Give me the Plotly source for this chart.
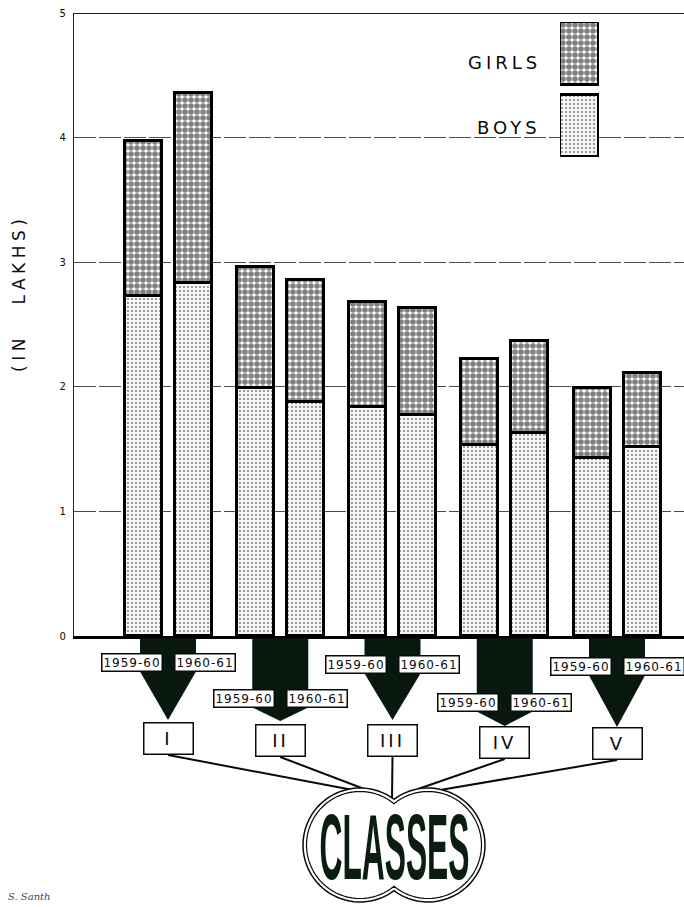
import numpy as np
import plotly.graph_objects as go

# ---------------- data (in lakhs) ----------------
classes = ["I", "II", "III", "IV", "V"]
years = ["1959-60", "1960-61"]
boys_1959_60 = [2.73, 1.99, 1.84, 1.53, 1.43]
girls_1959_60 = [1.24, 0.97, 0.84, 0.69, 0.56]
boys_1960_61 = [2.83, 1.88, 1.77, 1.63, 1.52]
girls_1960_61 = [1.53, 0.98, 0.86, 0.74, 0.59]
y_tick_values = [0, 1, 2, 3, 4, 5]
y_tick_labels = ["0", "1", "2", "3", "4", "5"]
legend_labels = ["GIRLS", "BOYS"]
y_title = "(IN   LAKHS)"
footer_title = "CLASSES"
signature = "S. Santh"

# ---------------- geometry helpers ----------------
W, H = 684, 907
def yp(p):           # pixel row -> paper y
    return 1 - p / H
def xp(q):           # pixel col -> paper x
    return q / W

PLOT_L, PLOT_R = 74, 684
Y0_PX, Y5_PX = 636, 13
CLASS0_PX, STEP_PX = 168, 112.25
x_range = [(PLOT_L - CLASS0_PX) / STEP_PX, (PLOT_R - CLASS0_PX) / STEP_PX]
def u(px_len):       # pixel length -> x data units
    return px_len / STEP_PX

xi = list(range(len(classes)))
BAR_W = u(37)
OFFSETS = [-u(25) - BAR_W / 2, u(25) - BAR_W / 2]

INK = "#0a0a0a"
FUNNEL = "#08180e"
font_main = "DejaVu Sans"

girls_marker = dict(color="white",
                    pattern=dict(shape=".", size=6, solidity=0.68,
                                 fgcolor="black", bgcolor="white"),
                    line=dict(color="black", width=3))
boys_marker = dict(color="#f3f3f3",
                   pattern=dict(shape=".", size=4, solidity=0.22,
                                fgcolor="#111111", bgcolor="#f5f5f5"),
                   line=dict(color="black", width=3))

fig = go.Figure()
series = [(boys_1959_60, girls_1959_60), (boys_1960_61, girls_1960_61)]
for k, (boys, girls) in enumerate(series):
    fig.add_trace(go.Bar(x=xi, y=boys, width=BAR_W, offset=OFFSETS[k],
                         marker=boys_marker, name="BOYS " + years[k],
                         showlegend=False, cliponaxis=False))
    fig.add_trace(go.Bar(x=xi, y=girls, base=boys, width=BAR_W, offset=OFFSETS[k],
                         marker=girls_marker, name="GIRLS " + years[k],
                         showlegend=False, cliponaxis=False))

# legend swatches on their own small axis
fig.add_trace(go.Bar(x=[0], y=[62], base=[0], width=1, marker=boys_marker,
                     xaxis="x2", yaxis="y2", showlegend=False, cliponaxis=False,
                     hoverinfo="skip"))
fig.add_trace(go.Bar(x=[0], y=[63], base=[72], width=1, marker=girls_marker,
                     xaxis="x2", yaxis="y2", showlegend=False, cliponaxis=False,
                     hoverinfo="skip"))

shapes = []
annotations = []

# top frame line at 5
shapes.append(dict(type="line", xref="paper", yref="y", x0=xp(PLOT_L), x1=1,
                   y0=5, y1=5, line=dict(color="#222", width=2), layer="below"))

# funnels / labels / class boxes
label_c_px = [662, 698, 664, 702, 666]
tip_px = [720, 721, 720, 726, 727]
box_c_px = [738, 740, 740, 742, 743]
line_end_px = [(353, 790), (388, 798), (392, 798), (418, 789), (440, 790)]
HW = u(28)
for i in xi:
    lb = label_c_px[i] + 9.5
    path = (f"M {i-HW},{yp(638)} L {i+HW},{yp(638)} L {i+HW},{yp(lb)} "
            f"L {i},{yp(tip_px[i])} L {i-HW},{yp(lb)} Z")
    shapes.append(dict(type="path", xref="x", yref="paper", path=path,
                       fillcolor=FUNNEL, line=dict(width=0)))
    for k, yr in enumerate(years):
        annotations.append(dict(
            x=i + (-1 if k == 0 else 1) * u(36.5), y=yp(label_c_px[i]),
            xref="x", yref="paper", showarrow=False,
            text=f'<span style="letter-spacing:1px">{yr}</span>',
            font=dict(family=font_main, size=12, color=INK),
            bgcolor="white", bordercolor=INK, borderwidth=1.5, borderpad=1,
            width=57, height=14, xanchor="center", yanchor="middle"))
    annotations.append(dict(
        x=i, y=yp(box_c_px[i]), xref="x", yref="paper", showarrow=False,
        text=f'<span style="letter-spacing:3px">{classes[i]}</span>',
        font=dict(family=font_main, size=18, color=INK),
        bgcolor="white", bordercolor=INK, borderwidth=1.5, borderpad=2,
        width=44, height=26, xanchor="center", yanchor="middle"))
    # connector to CLASSES
    ex, ey = line_end_px[i]
    shapes.append(dict(type="line", xref="x", yref="paper",
                       x0=i, y0=yp(box_c_px[i] + 17),
                       x1=(ex - CLASS0_PX) / STEP_PX, y1=yp(ey),
                       line=dict(color=INK, width=2)))

# CLASSES double-circle emblem
def union_path(cxl, cxr, cy, r, n=60):
    d = (cxr - cxl) / 2
    a = np.degrees(np.arccos(d / r))
    t1 = np.radians(np.linspace(360 - a, a, n))
    t2 = np.radians(np.linspace(180 - a, -(180 - a), n))
    pts = [(cxl + r * np.cos(t), cy + r * np.sin(t)) for t in t1]
    pts += [(cxr + r * np.cos(t), cy + r * np.sin(t)) for t in t2]
    s = "M " + " L ".join(f"{xp(x):.5f},{yp(y):.5f}" for x, y in pts) + " Z"
    return s

shapes.append(dict(type="path", xref="paper", yref="paper",
                   path=union_path(360, 428, 845, 57), fillcolor="white",
                   line=dict(color=INK, width=1.5)))
shapes.append(dict(type="path", xref="paper", yref="paper",
                   path=union_path(360, 428, 845, 53.5),
                   line=dict(color=INK, width=1.2)))

annotations.append(dict(x=xp(394), y=yp(846), xref="paper", yref="paper",
                        showarrow=False, text=footer_title,
                        font=dict(family="Liberation Sans", size=40,
                                  color="#0b1d10", weight=700),
                        xanchor="center", yanchor="middle"))

# legend labels
for lab, ypx in zip(legend_labels, [62, 127]):
    annotations.append(dict(x=xp(543), y=yp(ypx), xref="paper", yref="paper",
                            showarrow=False,
                            text=f'<span style="letter-spacing:4px">{lab}</span>',
                            font=dict(family=font_main, size=18, color=INK),
                            xanchor="right", yanchor="middle"))

# y title
annotations.append(dict(x=xp(19), y=yp(294), xref="paper", yref="paper",
                        showarrow=False, textangle=-90,
                        text=f'<span style="letter-spacing:4.5px">{y_title.replace(" ", "&nbsp;")}</span>',
                        font=dict(family=font_main, size=17, color=INK),
                        xanchor="center", yanchor="middle"))

# signature
annotations.append(dict(x=xp(6), y=yp(896), xref="paper", yref="paper",
                        showarrow=False, text=f"<i>{signature}</i>",
                        font=dict(family="DejaVu Serif", size=10, color="#444"),
                        xanchor="left", yanchor="middle"))

fig.update_layout(
    width=W, height=H, margin=dict(l=0, r=0, t=0, b=0, pad=0, autoexpand=False),
    paper_bgcolor="white", plot_bgcolor="white",
    barmode="overlay", bargap=0,
    showlegend=False,
    xaxis=dict(domain=[xp(PLOT_L), 1], range=x_range, showgrid=False,
               zeroline=False, showticklabels=False, ticks="", automargin=False,
               showline=True, linecolor="black", linewidth=3, fixedrange=True),
    yaxis=dict(domain=[yp(Y0_PX), yp(Y5_PX)], range=[0, 5], automargin=False,
               tickvals=y_tick_values, ticktext=y_tick_labels, ticks="",
               ticklabelstandoff=5,
               tickfont=dict(family=font_main, size=10, color=INK),
               showgrid=True, gridcolor="#4a4a4a", gridwidth=1,
               griddash="22px,3px", zeroline=False,
               showline=True, linecolor="#222", linewidth=1.2, fixedrange=True),
    xaxis2=dict(domain=[xp(560), xp(599)], range=[-0.5, 0.5], anchor="y2",
                visible=False, automargin=False),
    yaxis2=dict(domain=[yp(157), yp(22)], range=[0, 135], anchor="x2",
                visible=False, automargin=False),
    shapes=shapes, annotations=annotations,
)

post = """
var de = document.documentElement, bd = document.body;
de.style.margin = '0'; de.style.padding = '0'; de.style.overflow = 'hidden';
bd.style.margin = '0'; bd.style.padding = '0'; bd.style.overflow = 'hidden';
var gd = document.getElementById('{plot_id}');
gd.style.position = 'absolute'; gd.style.left = '0px'; gd.style.top = '0px';
gd.querySelectorAll('text.annotation-text').forEach(function(t){
  if (t.textContent.trim() === 'CLASSES') {
    var b = t.getBBox();
    var cx = b.x + b.width/2, cy = b.y + b.height/2;
    var sx = 150 / b.width, sy = 67 / (0.716 * 40);
    t.setAttribute('transform', 'translate(' + cx + ',' + cy + ') scale(' + sx + ',' + sy + ') translate(' + (-cx) + ',' + (-cy) + ')');
  }
});
"""
fig.write_html("out.html", post_script=post, config={"displayModeBar": False})
